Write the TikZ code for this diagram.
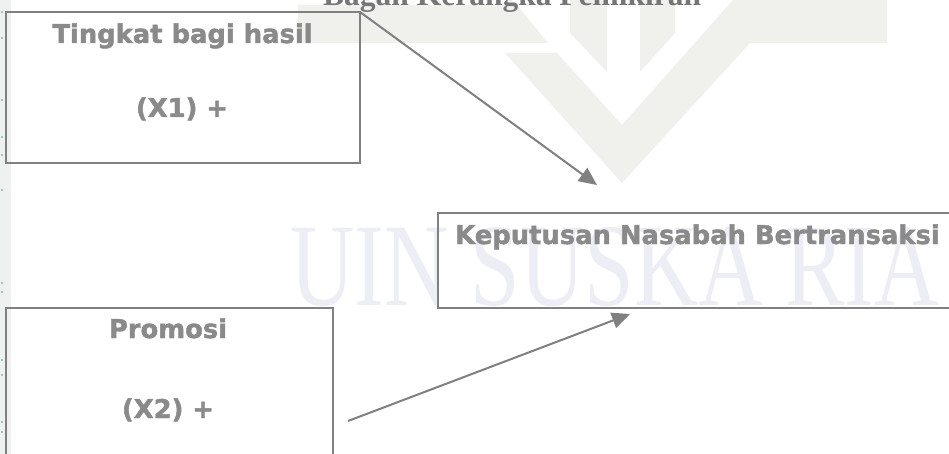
\documentclass[tikz,border=0pt]{standalone}
\usepackage{fontspec}
\setmainfont{Liberation Serif}
\newfontfamily\boxfont{DejaVu Sans}[BoldFeatures={FakeBold=1.6}]
\usetikzlibrary{arrows.meta}
\definecolor{linegray}{RGB}{128,128,128}
\definecolor{txtgray}{RGB}{138,138,138}
\definecolor{titlegray}{RGB}{118,118,118}
\definecolor{logogray}{RGB}{240,240,237}
\definecolor{wmlav}{RGB}{237,237,246}
\definecolor{stripgray}{RGB}{239,241,240}
\definecolor{wmgreen}{RGB}{125,190,160}
\begin{document}
\begin{tikzpicture}[x=1pt,y=-1pt,
  box/.style={draw=linegray, line width=2pt, inner sep=0pt, outer sep=0pt, anchor=north west},
  lbl/.style={font=\boxfont\bfseries\fontsize{25.8}{30}\selectfont, text=txtgray, inner sep=0pt, anchor=base},
  conn/.style={draw=linegray, line width=2pt, -{Triangle[length=18pt,width=16pt]}},
  logo/.style={fill=logogray, draw=none},
  gdot/.style={fill=wmgreen, draw=none}]
\clip (0,0) rectangle (949,454);
\fill[white] (0,0) rectangle (949,454);
% watermark
\fill[stripgray] (0,0) rectangle (11,454);
\foreach \yy in {12,38,100,137,155,190,283,292,360,375,422,432}
  \fill[gdot] (2,\yy) circle (1.2pt);
\path[logo] (298,5) -- (517,5) -- (548,43) -- (298,43) -- cycle;
\path[logo] (505,53) -- (622,183) -- (750,43) -- (887,43) -- (887,0) -- (733,0) -- (622,125) -- (557,53) -- cycle;
\path[logo] (570,0) -- (607,0) -- (607,72) -- (570,33) -- cycle;
\path[logo] (640,0) -- (675,0) -- (675,33) -- (640,72) -- cycle;
\node[anchor=base west, inner sep=0pt, text=wmlav, font=\fontsize{118}{120}\selectfont] (wm) at (290,305) {\scalebox{0.755}[1]{UIN SUSKA RIA}};
% title
\node[anchor=base west, inner sep=0pt, text=titlegray, font=\bfseries\fontsize{31.5}{36}\selectfont] (title) at (323,6) {Bagan Kerangka Pemikiran};
% boxes
\node[box, minimum width=520pt, minimum height=95pt] (b2) at (438,213) {};
\node[box, minimum width=354pt, minimum height=151pt] (b1) at (6,12) {};
\node[box, minimum width=327pt, minimum height=160pt] (b3) at (6,308) {};
% labels
\node[lbl] (t1a) at (182.5,43) {Tingkat bagi hasil};
\node[lbl] (t1b) at (182,117) {(X1) +};
\node[lbl] (t2) at (697.5,244) {Keputusan Nasabah Bertransaksi};
\node[lbl] (t3a) at (168,338) {Promosi};
\node[lbl] (t3b) at (168,418) {(X2) +};
% connectors
\coordinate (tip1) at (597,185);
\coordinate (s2) at (348,421);
\coordinate (tip2) at (630,314);
\draw[conn] (b1.north east) -- (tip1);
\draw[conn] (s2) -- (tip2);
\end{tikzpicture}
\end{document}
